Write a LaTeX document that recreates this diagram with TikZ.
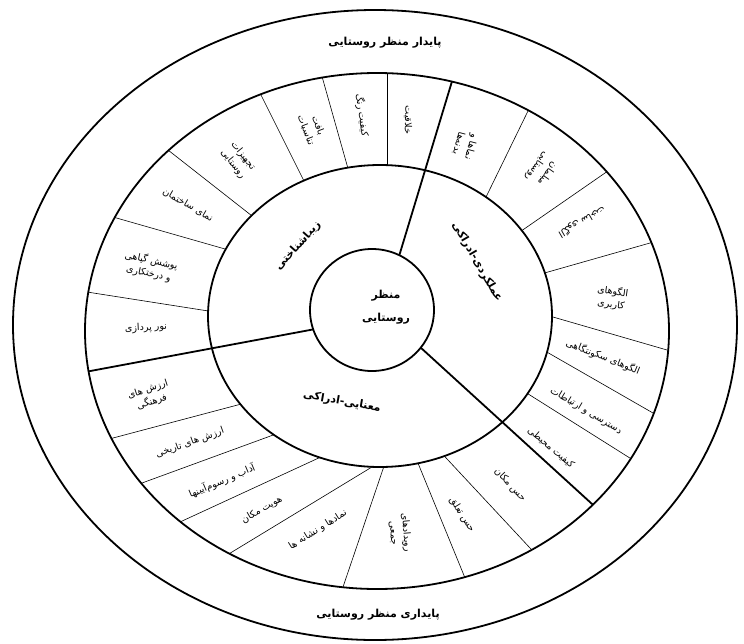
\documentclass[tikz,border=0pt]{standalone}
\usepackage{fontspec}
\usetikzlibrary{calc}
\newfontfamily\farsifont[Script=Arabic]{DejaVu Sans}
\TeXXeTstate=1
\newcommand{\fatext}[1]{\beginR #1\endR}

\tikzset{
  ring/.style={line width=1.8pt},
  sep/.style={line width=0.6pt},
  main/.style={line width=1.8pt},
  lbl/.style={font=\farsifont\fontsize{9.5}{13}\selectfont, align=center, inner sep=1pt},
  head/.style={font=\farsifont\bfseries\fontsize{11}{13}\selectfont, inner sep=1pt},
}

\begin{document}
\begin{tikzpicture}[x=1pt,y=1pt]
		\fill[white] (0,0) rectangle (744,-643);
		\useasboundingbox (0,0) rectangle (744,-643);
		\coordinate (cOut) at (375,-325);
		\coordinate (cSeg) at (377,-331);
		\coordinate (cMid) at (380,-316);
		\coordinate (cIn) at (372,-310);
		\draw[ring] (cOut) ellipse [x radius=362, y radius=315];
		% segments
		\begin{scope}
			\clip (cSeg) ellipse [x radius=292, y radius=258];
			\foreach \ax/\ay/\bx/\by in {387/165/387/78, 347/165/323/80, 302/177/260/93,
				247/212/168/150, 218/247/113/217, 202/310/87/292,
				230/407/113/438, 265/438/142/483, 310/462/180/522, 367/470/232/552,
				382/472/343/587, 420/468/463/573, 448/460/530/548,
				488/193/527/113, 527/227/605/173, 548/272/650/243, 553/317/667/350,
				552/355/653/413, 533/397/633/460}
				\draw[sep] ($(\ax,-\ay)!-0.1!(\bx,-\by)$) -- ($(\bx,-\by)!-0.1!(\ax,-\ay)$);
			\fill[white] (cMid) ellipse [x radius=172, y radius=151];
			\foreach \ax/\ay/\bx/\by in {400/253/453/78, 310/330/85/372, 420/347/580/493}
				\draw[main] ($(\ax,-\ay)!-0.1!(\bx,-\by)$) -- ($(\bx,-\by)!-0.1!(\ax,-\ay)$);
		\end{scope}
		\fill[white] (cIn) ellipse [x radius=62, y radius=61];
		\draw[ring] (cSeg) ellipse [x radius=292, y radius=258];
		\draw[ring] (cMid) ellipse [x radius=172, y radius=151];
		\draw[ring] (cIn) ellipse [x radius=62, y radius=61];
		% titles
		\node[head] (top) at (385,-43) {\fatext{پایدار منظر روستایی}};
		\node[head] (bottom) at (378,-615) {\fatext{پایداری منظر روستایی}};
		\node[head, align=center] (core) at (386,-307) {\fatext{منظر}\\[10pt]\fatext{روستایی}};
		\node[head, rotate=48] (aes) at (298,-246) {\fatext{زیباشناختی}};
		\node[head, rotate=-60] (func) at (477,-262) {\fatext{عملکردی-ادراکی}};
		\node[head, rotate=-10] (sem) at (342,-402) {\fatext{معنایی-ادراکی}};
		% aesthetic
		\node[lbl, rotate=-92] (aCreat) at (408,-120) {\fatext{خلاقیت}};
		\node[lbl, rotate=-82] (aColor) at (362,-115) {\fatext{کیفیت رنگ}};
		\node[lbl, rotate=-69] (aTexture) at (312,-128) {\fatext{بافت}\\\fatext{تناسبات}};
		\node[lbl, rotate=-51] (aEquip) at (238,-160) {\fatext{تجهیزات}\\\fatext{روستایی}};
		\node[lbl, rotate=-30] (aFacade) at (188,-205) {\fatext{نمای ساختمان}};
		\node[lbl, rotate=-12] (aVeg) at (150,-267) {\fatext{پوشش گیاهی}\\\fatext{و درختکاری}};
		\node[lbl, rotate=3] (aLight) at (146,-328) {\fatext{نور پردازی}};
		% semantic
		\node[lbl, rotate=18] (sCult) at (150,-396) {\fatext{ارزش های}\\\fatext{فرهنگی}};
		\node[lbl, rotate=20] (sHist) at (190,-443) {\fatext{ارزش های تاریخی}};
		\node[lbl, rotate=23] (sRite) at (222,-481) {\fatext{آداب و رسوم‌آیینها}};
		\node[lbl, rotate=30] (sIdent) at (262,-510) {\fatext{هویت مکان}};
		\node[lbl, rotate=32] (sSymb) at (318,-530) {\fatext{نمادها و نشانه ها}};
		\node[lbl, rotate=-85] (sEvent) at (400,-533) {\fatext{رویدادهای}\\\fatext{جمعی}};
		\node[lbl, rotate=-58] (sBelong) at (462,-515) {\fatext{حس تعلق}};
		\node[lbl, rotate=-47] (sPlace) at (510,-485) {\fatext{حس مکان}};
		% functional
		\node[lbl, rotate=-105] (fBody) at (465,-145) {\fatext{نماها و}\\\fatext{بدنه‌ها}};
		\node[lbl, rotate=-125] (fFurn) at (542,-170) {\fatext{مبلمان}\\\fatext{روستایی}};
		\node[lbl, rotate=-150] (fBuild) at (582,-222) {\fatext{الگوی ساخت}};
		\node[lbl, rotate=-8] (fUse) at (612,-298) {\fatext{الگوهای}\\\fatext{کاربری}};
		\node[lbl, rotate=-22] (fSettle) at (603,-357) {\fatext{الگوهای سکونتگاهی}};
		\node[lbl, rotate=-31] (fAccess) at (586,-411) {\fatext{دسترسی و ارتباطات}};
		\node[lbl, rotate=-40] (fEnv) at (551,-448) {\fatext{کیفیت محیطی}};
\end{tikzpicture}
\end{document}
